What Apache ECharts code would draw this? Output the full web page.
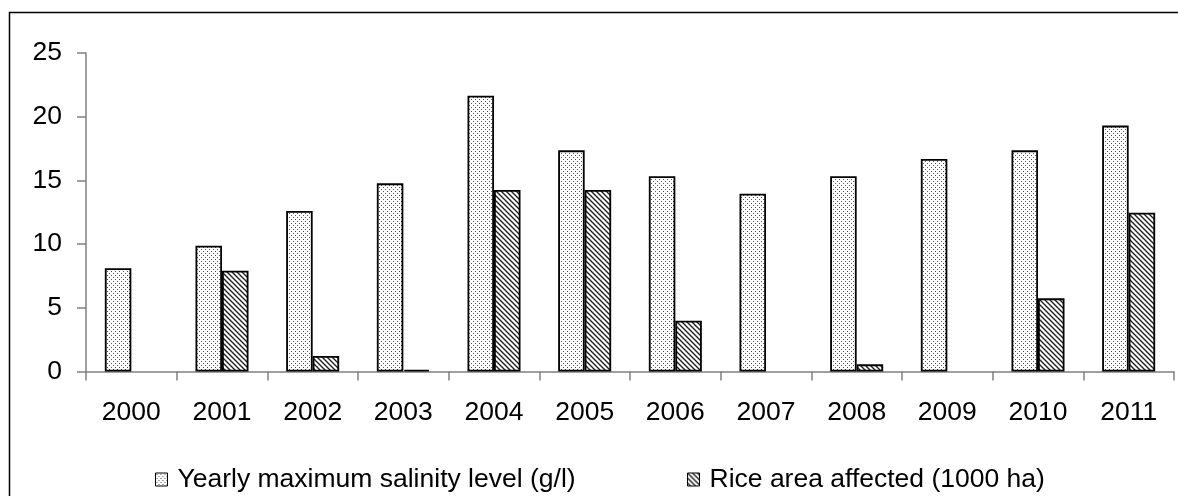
<!DOCTYPE html>
<html>
<head>
<meta charset="utf-8">
<script src="https://cdn.jsdelivr.net/npm/echarts@6/dist/echarts.min.js"></script>
<style>
html,body{margin:0;padding:0;background:#fff;}
#c{width:1178px;height:496px;}
</style>
</head>
<body>
<div id="c"></div>
<script>
const categories = ['2000','2001','2002','2003','2004','2005','2006','2007','2008','2009','2010','2011'];
const salinity = [8.1, 9.87, 12.6, 14.77, 21.65, 17.36, 15.32, 13.96, 15.32, 16.68, 17.36, 19.3];
const riceArea = [null, 7.91, 1.22, 0.14, 14.25, 14.25, 3.99, null, 0.56, null, 5.74, 12.47];
const seriesNames = ['Yearly maximum salinity level (g/l)', 'Rice area affected (1000 ha)'];
const yTicks = [0, 5, 10, 15, 20, 25];

function dotPattern() {
  const c = document.createElement('canvas');
  c.width = 4; c.height = 4;
  const g = c.getContext('2d');
  g.fillStyle = '#fff'; g.fillRect(0, 0, 4, 4);
  g.fillStyle = '#555';
  g.fillRect(1, 1, 1, 1);
  g.fillRect(3, 3, 1, 1);
  return c;
}
function hatchPattern() {
  const s = 5;
  const c = document.createElement('canvas');
  c.width = s; c.height = s;
  const g = c.getContext('2d');
  g.fillStyle = '#fff'; g.fillRect(0, 0, s, s);
  g.strokeStyle = '#222'; g.lineWidth = 1.4;
  g.beginPath();
  g.moveTo(-1, -1); g.lineTo(s + 1, s + 1);
  g.moveTo(-1, s - 1); g.lineTo(1, s + 1);
  g.moveTo(s - 1, -1); g.lineTo(s + 1, 1);
  g.stroke();
  return c;
}

const chart = echarts.init(document.getElementById('c'), null, {renderer: 'canvas'});
const font = 'Liberation Sans';
const fs = 26.5;
const legendCommon = {
  icon: 'rect',
  itemWidth: 12, itemHeight: 13, itemGap: 10,
  itemStyle: {borderWidth: 1, borderColor: '#000'},
  textStyle: {fontFamily: font, fontSize: fs, color: '#000', padding: [0, 0, 0, 5]},
  selectedMode: false
};
chart.setOption({
  animation: false,
  backgroundColor: '#fff',
  textStyle: {fontFamily: font, color: '#000'},
  graphic: [{
    type: 'rect',
    shape: {x: 9.5, y: 12.5, width: 1300, height: 700},
    style: {fill: 'none', stroke: '#000', lineWidth: 1.5},
    silent: true
  }],
  grid: {left: 86, right: 4, top: 53, bottom: 124.5, containLabel: false},
  legend: [
    Object.assign({data: [seriesNames[0]], left: 150, top: 461}, legendCommon),
    Object.assign({data: [seriesNames[1]], left: 682, top: 461}, legendCommon)
  ],
  xAxis: {
    type: 'category',
    data: categories,
    axisLine: {lineStyle: {color: '#808080', width: 1.5}},
    axisTick: {show: true, length: 9, lineStyle: {color: '#808080', width: 1.5}},
    axisLabel: {fontFamily: font, fontSize: fs, color: '#000', margin: 28}
  },
  yAxis: {
    type: 'value',
    min: yTicks[0], max: yTicks[yTicks.length - 1], interval: yTicks[1] - yTicks[0],
    axisLine: {show: true, lineStyle: {color: '#808080', width: 1.5}},
    axisTick: {show: true, length: 9, lineStyle: {color: '#808080', width: 1.5}},
    splitLine: {show: false},
    axisLabel: {fontFamily: font, fontSize: fs, color: '#000', margin: 24}
  },
  series: [{
    name: seriesNames[0],
    type: 'bar',
    data: salinity,
    barWidth: 26.5,
    barGap: '0%',
    itemStyle: {color: {image: dotPattern(), repeat: 'repeat'}, borderColor: '#000', borderWidth: 1.8}
  }, {
    name: seriesNames[1],
    type: 'bar',
    data: riceArea,
    barWidth: 26.5,
    barGap: '0%',
    itemStyle: {color: {image: hatchPattern(), repeat: 'repeat'}, borderColor: '#000', borderWidth: 1.8}
  }]
});
</script>
</body>
</html>
